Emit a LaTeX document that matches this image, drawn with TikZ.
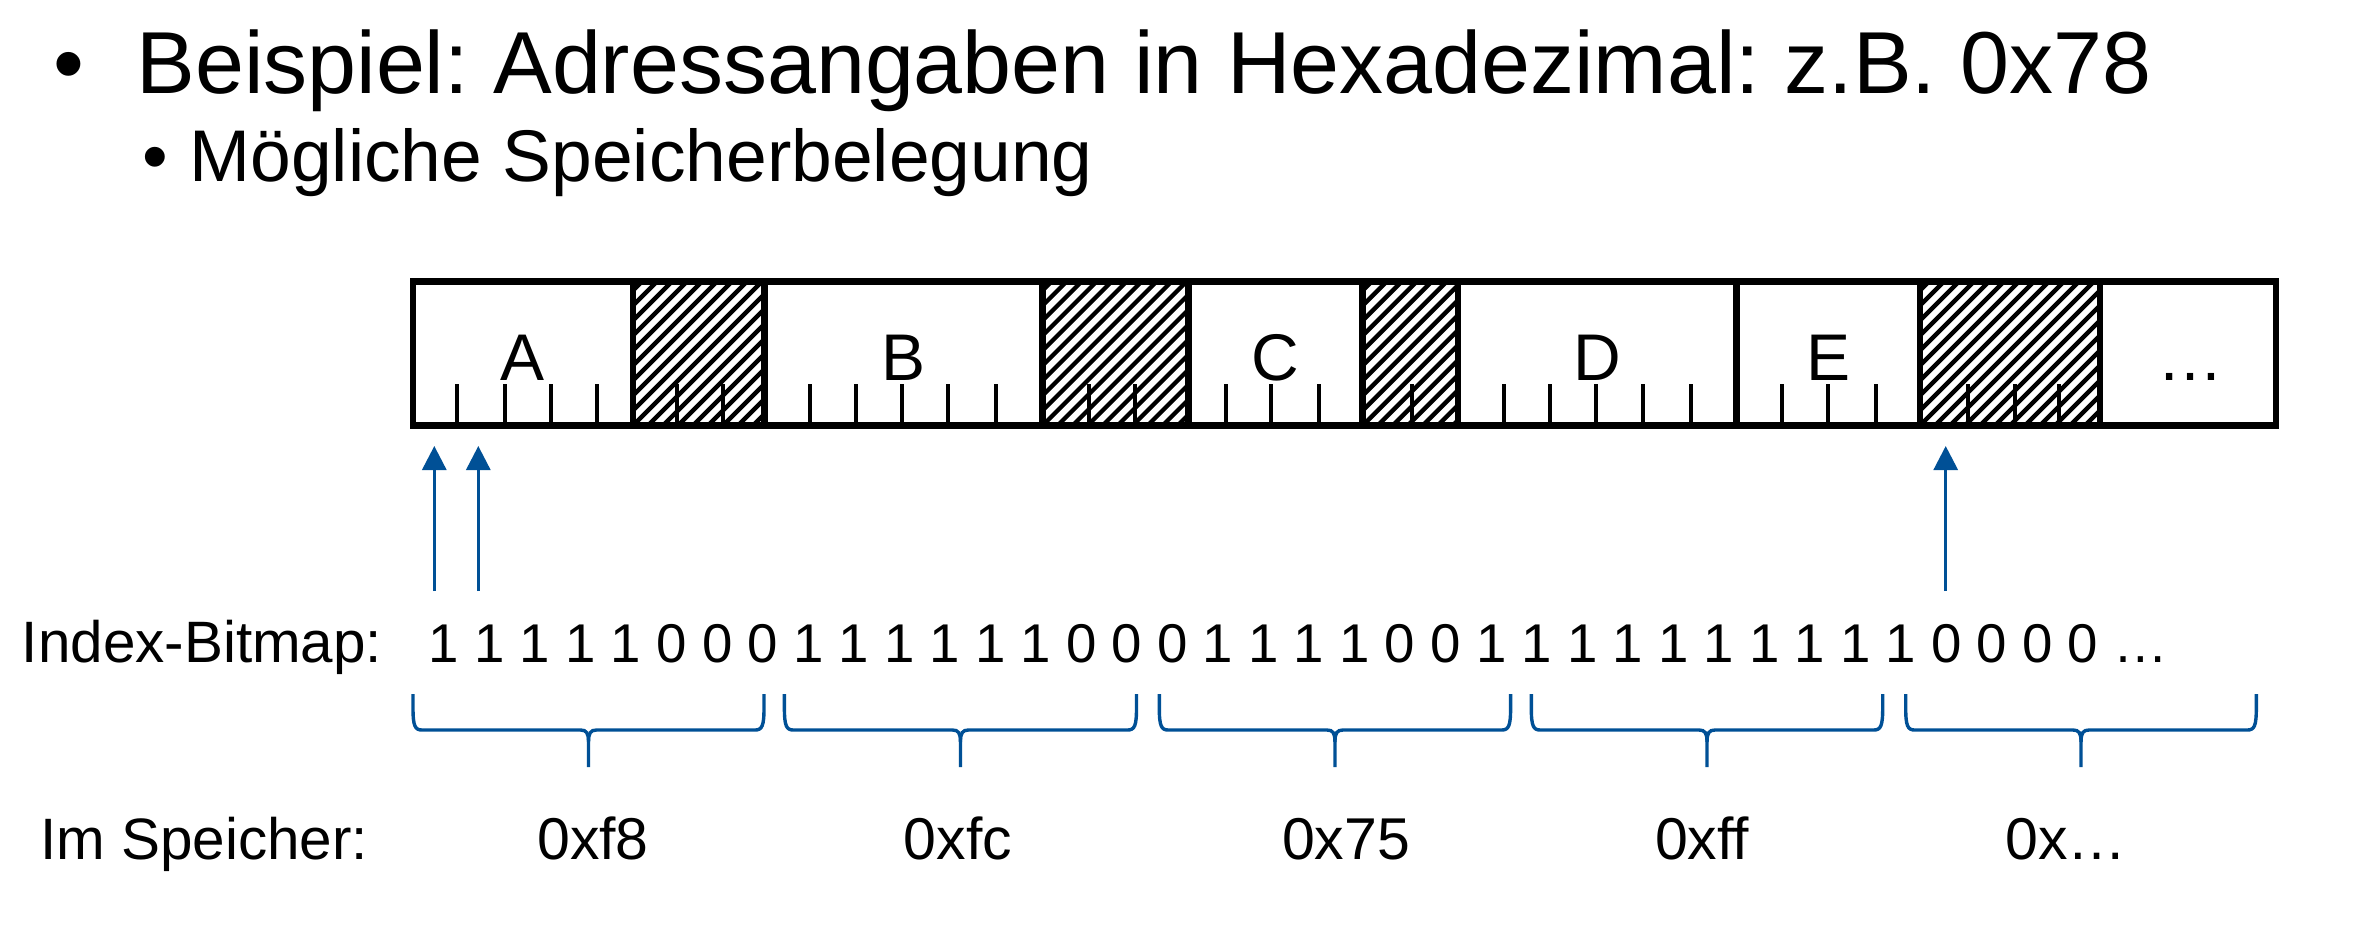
\documentclass[tikz,border=0pt]{standalone}
\usepackage{fontspec}
\setmainfont{Liberation Sans}
\usetikzlibrary{arrows.meta}
\definecolor{myblue}{RGB}{0,80,150}
\frenchspacing
\tikzset{
  barline/.style={line width=3.4pt, line cap=rect},
  tickline/.style={line width=2pt},
  hatchline/.style={line width=2.2pt},
  arr/.style={draw=myblue, line width=1.5pt, -{Triangle[length=12pt,width=12pt]}},
  bracel/.style={draw=myblue, line width=1.7pt},
  blk/.style={inner sep=0pt, anchor=base, font=\fontsize{33}{33}\selectfont},
  lbl/.style={inner sep=0pt, anchor=base west, font=\fontsize{29.2}{29.2}\selectfont},
  bits/.style={inner sep=0pt, anchor=base west, font=\fontsize{27.3}{27.3}\selectfont},
  val/.style={inner sep=0pt, anchor=base, font=\fontsize{29.5}{29.5}\selectfont},
}
\begin{document}
\begin{tikzpicture}[x=0.5pt,y=-0.5pt]
\useasboundingbox[fill=white] (0,0) rectangle (2353,939);
% title lines
\node[inner sep=0pt, anchor=base, font=\fontsize{44}{44}\selectfont] (bul1) at (69,93) {•};
\node[inner sep=0pt, anchor=base west, font=\fontsize{44}{44}\selectfont] (title) at (136,93) {Beispiel: Adressangaben in Hexadezimal: z.B. 0x78};
\node[inner sep=0pt, anchor=base, font=\fontsize{36.6}{36.6}\selectfont] (bul2) at (155,181.5) {•};
\node[inner sep=0pt, anchor=base west, font=\fontsize{36.6}{36.6}\selectfont] (subtitle) at (189,181.5) {Mögliche Speicherbelegung};
% hatched blocks
\foreach \xa/\xb in {633/764.6, 1042.6/1188.5, 1362.7/1458, 1920/2100}{
  \begin{scope}
    \clip (\xa,281.5) rectangle (\xb,425.5);
    \foreach \s in {0,15,...,345}{
      \draw[hatchline] ({\xa-150+\s},425.5) -- ++(144,-144);
    }
  \end{scope}
}
% ticks
\foreach \t in {457,505,551,597,676.5,722.6,809.6,855.7,901.8,947.8,995.5,1088.6,1134.7,1225.5,1271,1318.7,1411.8,1504,1549.7,1595.9,1642.8,1690.5,1782.2,1828.4,1876,1967.7,2015.4,2059.4}{
  \draw[tickline] (\t,384) -- (\t,425.5);
}
% dividers
\foreach \d in {633,764.6,1042.6,1188.5,1362.7,1458,1736.7,1920,2100}{
  \draw[barline] (\d,281.5) -- (\d,425.5);
}
\draw[barline] (413,281.5) rectangle (2276,425.5);
% block labels
\node[blk] (A) at (523,380) {A};
\node[blk] (B) at (903.6,380) {B};
\node[blk] (C) at (1275.6,380) {C};
\node[blk] (D) at (1597,380) {D};
\node[blk] (E) at (1828,380) {E};
\node[blk] (dots) at (2190,380) {…};
% arrows
\coordinate (a1s) at (434.3,591); \coordinate (a1e) at (434.3,446);
\coordinate (a2s) at (478.3,591); \coordinate (a2e) at (478.3,446);
\coordinate (a3s) at (1945.7,591); \coordinate (a3e) at (1945.7,446);
\draw[arr] (a1s) -- (a1e);
\draw[arr] (a2s) -- (a2e);
\draw[arr] (a3s) -- (a3e);
% bitmap row
\node[lbl] (ib) at (21.5,662) {Index-Bitmap:};
\node[bits] (bitrow) at (428.5,662) {1 1 1 1 1 0 0 0 1 1 1 1 1 1 0 0 0 1 1 1 1 0 0 1 1 1 1 1 1 1 1 1 1 0 0 0 0 …};
% braces
\foreach \xl/\xr in {413/764, 784.4/1136.5, 1159.3/1510.6, 1531.3/1882.7, 1905.7/2256.3}{
  \pgfmathsetmacro\xm{(\xl+\xr)/2}
  \draw[bracel] (\xl,694) -- (\xl,708) .. controls (\xl,726) and ({\xl+2},730) .. ({\xl+9},730) -- ({\xm-8},730) .. controls ({\xm-2},730) and (\xm,733) .. (\xm,742) -- (\xm,767);
  \draw[bracel] (\xr,694) -- (\xr,708) .. controls (\xr,726) and ({\xr-2},730) .. ({\xr-9},730) -- ({\xm+8},730) .. controls ({\xm+2},730) and (\xm,733) .. (\xm,742);
}
% memory row
\node[lbl] (is) at (40,859) {Im Speicher:};
\node[val] (v1) at (593,859) {0xf8};
\node[val] (v2) at (958,859) {0xfc};
\node[val] (v3) at (1346,859) {0x75};
\node[val] (v4) at (1702,859) {0xff};
\node[val] (v5) at (2066,859) {0x…};
\end{tikzpicture}
\end{document}
